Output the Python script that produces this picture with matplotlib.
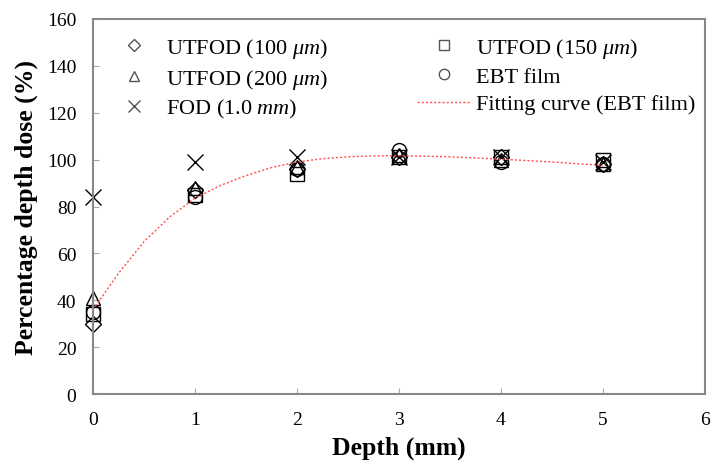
import matplotlib
matplotlib.use("Agg")
import matplotlib.pyplot as plt

plt.rcParams['font.family'] = ['Liberation Serif', 'DejaVu Serif']
plt.rcParams['mathtext.fontset'] = 'custom'
plt.rcParams['mathtext.it'] = 'Liberation Serif:italic'
plt.rcParams['mathtext.rm'] = 'Liberation Serif'

depth = [0, 1, 2, 3, 4, 5]
utfod_100 = [30, 87, 96, 101, 101, 98]
utfod_150 = [34, 85, 94, 101, 101, 100]
utfod_200 = [41, 88, 97, 102, 100, 98]
ebt_film = [35, 84, 96, 104, 99, 98]
fod_10 = [84, 99, 101, 101, 101, 99]

fit_depth = [0, 0.25, 0.5, 0.75, 1, 1.25, 1.5, 1.75, 2, 2.25, 2.5, 2.75, 3, 3.5, 4, 4.5, 5]
fit_ebt = [36, 51.5, 65, 75.5, 83.5, 89, 93.2, 96.6, 99, 100.4, 101.2, 101.6, 101.7, 101.2, 100.2, 99, 97.5]

x_ticks = [0, 1, 2, 3, 4, 5, 6]
y_ticks = [0, 20, 40, 60, 80, 100, 120, 140, 160]

fig = plt.figure(figsize=(7.12, 4.64), dpi=100)
ax = fig.add_axes([93/712, 1-395/464, (705-93)/712, (395-20)/464])

ms = 10
common = dict(linestyle='none', markerfacecolor='none', markeredgecolor='black',
              markeredgewidth=1.0, markersize=ms, clip_on=False)
h1, = ax.plot(depth, utfod_100, marker='D', label='UTFOD (100 $\\mathit{\\mu m}$)', **{**common, 'markersize': ms*0.8})
h2, = ax.plot(depth, utfod_150, marker='s', label='UTFOD (150 $\\mathit{\\mu m}$)', **common)
h3, = ax.plot(depth, utfod_200, marker='^', label='UTFOD (200 $\\mathit{\\mu m}$)', **common)
h4, = ax.plot(depth, ebt_film, marker='o', label='EBT film', **common)
h5, = ax.plot(depth, fod_10, marker='x', label='FOD (1.0 $\\mathit{mm}$)', **{**common, 'markersize': 11})
h6, = ax.plot(fit_depth, fit_ebt, linestyle=(0, (1.5, 1.5)), color='#ff5050', linewidth=1.0,
              label='Fitting curve (EBT film)')

ax.set_xlim(0, 6)
ax.set_ylim(0, 160)
ax.set_xticks(x_ticks)
ax.set_yticks(y_ticks)
for s in ax.spines.values():
    s.set_color('#888888')
    s.set_linewidth(1.5)
ax.tick_params(direction='in', length=4, color='#aaaaaa', labelsize=14, pad=12)
ax.set_xlabel('Depth (mm)', fontsize=18.5, fontweight='bold', labelpad=6)
ax.set_ylabel('Percentage depth dose (%)', fontsize=18.5, fontweight='bold', labelpad=6)

leg = ax.legend(handles=[h1, h3, h5, h2, h4, h6], ncol=2, loc='upper left',
                bbox_to_anchor=(107/712, 1-37/464), bbox_transform=fig.transFigure,
                frameon=False, fontsize=16, handlelength=2.45, handletextpad=0.22,
                columnspacing=4.0, labelspacing=0.3, markerscale=0.75,
                borderpad=0, borderaxespad=0)
for lh in leg.legend_handles:
    if lh.get_marker() not in (None, 'None', ''):
        lh.set_markeredgecolor('#555555')

fig.savefig('out.png', dpi=100)
